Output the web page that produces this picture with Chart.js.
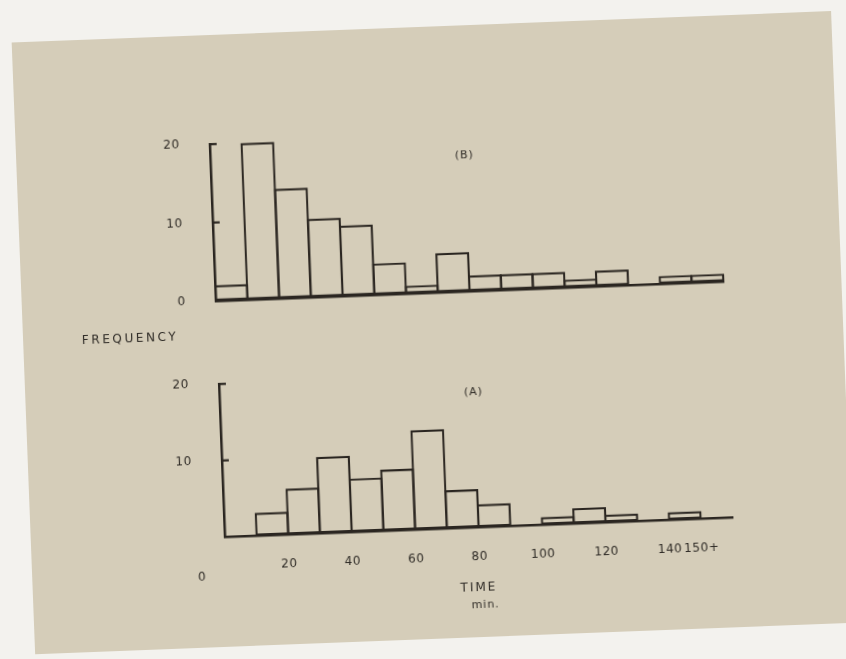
<!DOCTYPE html>
<html lang="en">
<head>
    <meta charset="UTF-8">
    <title>Frequency of time (A) and (B)</title>
    <!-- Chart.js from the CDN -->
    <script src="https://cdn.jsdelivr.net/npm/chart.js"></script>
    <style>
        html, body { margin: 0; padding: 0; background: #f3f2ee; overflow: hidden; }
        /* the photographed sheet is slightly tilted */
        #sheet { position: absolute; left: 0; top: 0; width: 846px; height: 659px;
                 transform: rotate(-2.2deg); transform-origin: 423px 330px; }
        #paper { position: absolute; left: 23px; top: 27px; width: 820px; height: 612px; background: #d5cdb9; }
        .box { position: absolute; }
        #boxB { left: 130px; top: 98.8px; width: 640px; height: 234px; }
        #boxA { left: 130px; top: 338.8px; width: 640px; height: 251.2px; }
        .lbl { position: absolute; font-family: 'DejaVu Sans', sans-serif; color: #2f2b26;
               transform: translate(-50%, -50%); white-space: nowrap; }
    </style>
</head>
<body>
    <div id="sheet">
        <div id="paper"></div>
        <div class="box" id="boxB"><canvas id="chartB"></canvas></div>
        <div class="box" id="boxA"><canvas id="chartA"></canvas></div>
        <div class="lbl" style="left:130px; top:327px; font-size:12px; letter-spacing:2.6px;">FREQUENCY</div>
        <div class="lbl" style="left:469px; top:589px; font-size:12px; letter-spacing:2px;">TIME</div>
        <div class="lbl" style="left:475px; top:606px; font-size:11px; letter-spacing:1px;">min.</div>
    </div>

    <script>
        // Classes de tempo (min), largura de 10 min; a ultima e "150+"
        const binStarts = [0, 10, 20, 30, 40, 50, 60, 70, 80, 90, 100, 110, 120, 130, 140, 150];
        const binWidth = 10;

        // Frequencias
        const freqB = [2, 20, 14, 10, 9, 4, 1, 5, 2, 2, 2, 1, 2, 0, 1, 1];
        const freqA = [0, 3, 6, 10, 7, 8, 13, 5, 3, 0, 1, 2, 1, 0, 1, 0];

        // Marcas dos eixos
        const yTicksB = [0, 10, 20];
        const yTicksA = [10, 20];
        const xTicks = [20, 40, 60, 80, 100, 120, 140, 150];
        const xTickLabels = ['20', '40', '60', '80', '100', '120', '140', '150+'];
        const xZeroLabel = '0';

        const ink = '#2b2621';
        const textInk = '#2f2b26';
        const tickFont = { family: "'DejaVu Sans', sans-serif", size: 12 };

        // desenha marcas internas do eixo y, a letra do painel e o "0" do eixo x
        const sheetMarks = {
            id: 'sheetMarks',
            beforeDraw(chart) {
                chart.ctx.letterSpacing = '0.6px';
            },
            afterDraw(chart, args, opts) {
                const ctx = chart.ctx;
                const x = chart.scales.x, y = chart.scales.y;
                const left = chart.chartArea.left;
                ctx.save();
                ctx.strokeStyle = ink;
                ctx.lineWidth = 2.2;
                opts.yTicks.filter(v => v > 0).forEach(v => {
                    const py = y.getPixelForValue(v);
                    ctx.beginPath();
                    ctx.moveTo(left - 1, py);
                    ctx.lineTo(left + 7, py);
                    ctx.stroke();
                });
                ctx.fillStyle = textInk;
                ctx.textAlign = 'center';
                ctx.textBaseline = 'middle';
                ctx.letterSpacing = '1px';
                ctx.font = "11px 'DejaVu Sans', sans-serif";
                ctx.fillText(opts.letter, x.getPixelForValue(80), chart.chartArea.top + opts.letterDy);
                if (opts.zeroLabel) {
                    ctx.font = "12px 'DejaVu Sans', sans-serif";
                    ctx.fillText(opts.zeroLabel, x.getPixelForValue(0) - 24, chart.chartArea.bottom + 40);
                }
                ctx.restore();
            }
        };

        function makePanel(id, freq, yTicks, letter, letterDy, showX, xHeight) {
            const ctx = document.getElementById(id).getContext('2d');
            return new Chart(ctx, {
                type: 'bar',
                data: {
                    datasets: [{
                        data: binStarts.map((s, i) => ({ x: s + binWidth / 2, y: freq[i] })),
                        backgroundColor: 'rgba(0,0,0,0)',
                        borderColor: ink,
                        borderWidth: 2.2,
                        borderSkipped: false,
                        barPercentage: 1.07,
                        categoryPercentage: 1,
                        clip: false
                    }]
                },
                options: {
                    responsive: true,
                    maintainAspectRatio: false,
                    animation: false,
                    events: [],
                    layout: { padding: { top: 0, right: 45, left: 0, bottom: 0 } },
                    plugins: {
                        legend: { display: false },
                        tooltip: { enabled: false },
                        sheetMarks: { yTicks: yTicks, letter: letter, letterDy: letterDy, zeroLabel: showX ? xZeroLabel : null }
                    },
                    scales: {
                        x: {
                            type: 'linear', min: 0, max: 160, offset: false,
                            grid: { display: false, drawTicks: false, offset: false },
                            border: { display: true, color: ink, width: 2.5 },
                            ticks: {
                                display: showX, padding: 22, color: textInk, font: tickFont,
                                autoSkip: false, maxRotation: 0,
                                callback: v => xTickLabels[xTicks.indexOf(v)]
                            },
                            afterBuildTicks: s => { s.ticks = xTicks.map(v => ({ value: v })); },
                            afterFit: s => { s.height = xHeight; }
                        },
                        y: {
                            min: 0, max: 20,
                            grid: { display: false, drawTicks: false },
                            border: { display: true, color: ink, width: 2.5 },
                            ticks: { padding: 30, color: textInk, font: tickFont },
                            afterBuildTicks: s => { s.ticks = yTicks.map(v => ({ value: v })); },
                            afterFit: s => { s.width = 87; }
                        }
                    }
                },
                plugins: [sheetMarks]
            });
        }

        makePanel('chartB', freqB, yTicksB, '(B)', 21, false, 40);
        makePanel('chartA', freqA, yTicksA, '(A)', 18, true, 61);
    </script>
</body>
</html>
